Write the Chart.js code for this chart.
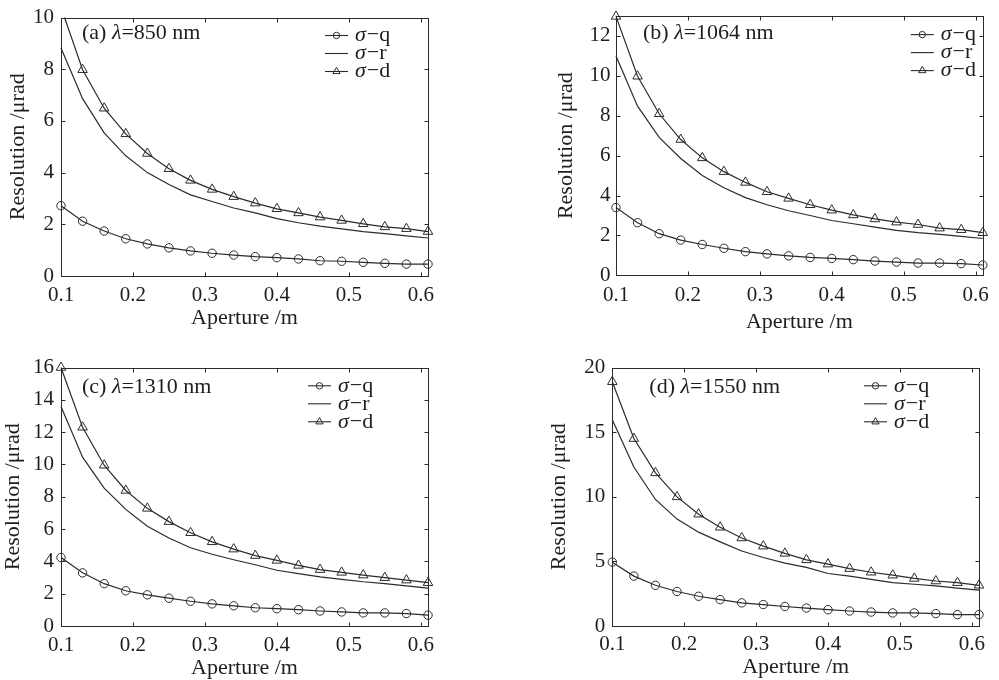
<!DOCTYPE html>
<html><head><meta charset="utf-8">
<script src="https://cdn.jsdelivr.net/npm/chart.js@4.4.1/dist/chart.umd.min.js"></script>
<style>
html,body{margin:0;padding:0;background:#fff;width:999px;height:680px;overflow:hidden;position:relative}
canvas{position:absolute;display:block}
</style></head><body>
<canvas id="ca" width="499" height="340" style="left:0;top:0"></canvas>
<canvas id="cb" width="499" height="340" style="left:500px;top:0"></canvas>
<canvas id="cc" width="499" height="340" style="left:0;top:350px"></canvas>
<canvas id="cd" width="499" height="340" style="left:500px;top:350px"></canvas>
<script>
// ---------- data ----------
const aperture = [0.10,0.13,0.16,0.19,0.22,0.25,0.28,0.31,0.34,0.37,0.40,0.43,0.46,0.49,0.52,0.55,0.58,0.61];
const xTickValues = [0.1,0.2,0.3,0.4,0.5,0.6];
const xTickLabels = ['0.1','0.2','0.3','0.4','0.5','0.6'];
const seriesNames = ['q','r','d'];

// (a) 850 nm
const sigmaQ_a = [2.72,2.12,1.74,1.44,1.24,1.09,0.97,0.88,0.81,0.75,0.71,0.66,0.59,0.57,0.53,0.49,0.46,0.46];
const sigmaR_a = [8.82,6.86,5.54,4.65,4.00,3.54,3.14,2.88,2.63,2.44,2.22,2.06,1.93,1.82,1.72,1.64,1.55,1.47];
const sigmaD_a = [10.4,7.98,6.49,5.50,4.74,4.15,3.70,3.35,3.07,2.82,2.60,2.44,2.28,2.15,2.02,1.90,1.83,1.72];
const yTicks_a = [0,2,4,6,8,10];
const yLabels_a = ['0','2','4','6','8','10'];
// (b) 1064 nm
const sigmaQ_b = [3.40,2.64,2.09,1.77,1.55,1.36,1.19,1.08,0.98,0.90,0.85,0.79,0.72,0.67,0.62,0.62,0.59,0.52];
const sigmaR_b = [11.0,8.48,6.92,5.86,5.01,4.39,3.90,3.54,3.24,3.00,2.75,2.59,2.42,2.26,2.14,2.06,1.96,1.85];
const sigmaD_b = [12.98,9.98,8.10,6.81,5.89,5.20,4.66,4.19,3.86,3.54,3.27,3.03,2.83,2.67,2.55,2.37,2.29,2.14];
const yTicks_b = [0,2,4,6,8,10,12];
const yLabels_b = ['0','2','4','6','8','10','12'];
// (c) 1310 nm
const sigmaQ_c = [4.24,3.29,2.62,2.18,1.93,1.72,1.53,1.37,1.25,1.13,1.07,1.01,0.93,0.87,0.81,0.81,0.77,0.67];
const sigmaR_c = [13.58,10.45,8.53,7.22,6.17,5.45,4.84,4.44,4.10,3.79,3.45,3.24,3.04,2.89,2.74,2.62,2.48,2.34];
const sigmaD_c = [16.0,12.3,9.95,8.39,7.28,6.46,5.77,5.21,4.76,4.36,4.06,3.75,3.49,3.32,3.15,2.99,2.84,2.68];
const yTicks_c = [0,2,4,6,8,10,12,14,16];
const yLabels_c = ['0','2','4','6','8','10','12','14','16'];
// (d) 1550 nm
const sigmaQ_d = [4.94,3.86,3.15,2.67,2.30,2.04,1.79,1.66,1.51,1.39,1.26,1.16,1.08,1.01,1.01,0.96,0.88,0.88];
const sigmaR_d = [15.96,12.3,9.79,8.27,7.26,6.51,5.80,5.30,4.87,4.54,4.06,3.86,3.61,3.35,3.23,3.10,2.93,2.77];
const sigmaD_d = [18.9,14.5,11.85,9.99,8.65,7.64,6.81,6.18,5.62,5.12,4.79,4.44,4.16,3.93,3.68,3.48,3.35,3.15];
const yTicks_d = [0,5,10,15,20];
const yLabels_d = ['0','5','10','15','20'];

const panelTags = ['(a)','(b)','(c)','(d)'];
const wavelengths = ['850','1064','1310','1550'];
const yMaxes = [10,13,16,20];

// ---------- style ----------
const FONT = '"Liberation Serif","Times New Roman",serif';
const INK = '#2b2b2b';
const TXT = '#1e1e1e';

const decor = {
  id:'decor',
  beforeDatasetsDraw(chart){
    const a = chart.chartArea, ctx = chart.ctx;
    const xs = chart.scales.x, ys = chart.scales.y;
    ctx.save();
    ctx.strokeStyle = INK; ctx.lineWidth = 1;
    const L = Math.round(a.left)+0.5, R = Math.round(a.right)+0.5, T = Math.round(a.top)+0.5, B = Math.round(a.bottom)+0.5;
    ctx.strokeRect(L, T, R-L, B-T);
    ctx.beginPath();
    xs.ticks.forEach(t=>{
      const px = Math.round(xs.getPixelForValue(t.value))+0.5;
      ctx.moveTo(px,B); ctx.lineTo(px,B-4);
      ctx.moveTo(px,T); ctx.lineTo(px,T+4);
    });
    ys.ticks.forEach(t=>{
      const py = Math.round(ys.getPixelForValue(t.value))+0.5;
      ctx.moveTo(L,py); ctx.lineTo(L+4,py);
      ctx.moveTo(R,py); ctx.lineTo(R-4,py);
    });
    ctx.stroke();
    ctx.restore();
  },
  afterDraw(chart){
    const o = chart.options.plugins.decor, a = chart.chartArea, ctx = chart.ctx;
    ctx.save();
    ctx.fillStyle = TXT;
    ctx.textBaseline = 'middle';
    // panel label
    let x = a.left + o.labelDx, y = a.top + o.labelDy;
    const parts = [[o.tag+' ', false],['λ', true],['='+o.wl+' nm', false]];
    parts.forEach(([s,it])=>{
      ctx.font = (it?'italic ':'') + '22px ' + FONT;
      ctx.fillText(s, x, y);
      x += ctx.measureText(s).width;
    });
    // legend
    const ds = chart.data.datasets;
    ds.forEach((d,i)=>{
      const lx = a.right + o.legDx, ly = a.top + o.legDy + i*o.legGap;
      ctx.strokeStyle = INK; ctx.lineWidth = 1.1;
      ctx.beginPath(); ctx.moveTo(lx, ly); ctx.lineTo(lx+23, ly); ctx.stroke();
      const cx = lx + 11.5;
      if (d.pointStyle === 'circle') {
        ctx.beginPath(); ctx.arc(cx, ly, 3.2, 0, Math.PI*2); ctx.lineWidth = 1; ctx.stroke();
      } else if (d.pointStyle === 'triangle') {
        const r = 4.2;
        ctx.beginPath();
        ctx.moveTo(cx, ly - r);
        ctx.lineTo(cx + r*0.866, ly + r*0.5);
        ctx.lineTo(cx - r*0.866, ly + r*0.5);
        ctx.closePath(); ctx.lineWidth = 1; ctx.stroke();
      }
      let tx = lx + 30;
      ctx.font = 'italic 22px ' + FONT;
      ctx.fillText('σ', tx, ly); tx += ctx.measureText('σ').width + 1;
      ctx.font = '22px ' + FONT;
      ctx.fillText('−' + seriesNames[i], tx, ly);
    });
    ctx.restore();
  }
};

function pts(arr){ return aperture.map((x,i)=>({x:x, y:arr[i]})); }

function makePanel(id, q, r, d, yTicks, yLabels, idx, g){
  new Chart(document.getElementById(id), {
    type:'line',
    data:{datasets:[
      {label:'σ−q', data:pts(q), borderColor:INK, borderWidth:1.2, pointStyle:'circle', pointRadius:4.2,
       pointBorderWidth:1, pointBorderColor:INK, pointBackgroundColor:'rgba(0,0,0,0)', tension:0, clip:g.clip},
      {label:'σ−r', data:pts(r), borderColor:INK, borderWidth:1.2, pointRadius:0, tension:0, clip:g.clip},
      {label:'σ−d', data:pts(d), borderColor:INK, borderWidth:1.2, pointStyle:'triangle', pointRadius:5.5,
       pointBorderWidth:1, pointBorderColor:INK, pointBackgroundColor:'rgba(0,0,0,0)', tension:0, clip:g.clip}
    ]},
    plugins:[decor],
    options:{
      responsive:false, animation:false, devicePixelRatio:1,
      layout:{padding:{left:0, top:g.padTop, right:g.padRight, bottom:0}},
      plugins:{legend:{display:false}, tooltip:{enabled:false},
        decor:{tag:panelTags[idx], wl:wavelengths[idx], labelDx:g.labelDx, labelDy:g.labelDy,
               legDx:g.legDx, legDy:g.legDy, legGap:18}},
      scales:{
        x:{type:'linear', min:0.1, max:0.61,
           grid:{display:false, drawTicks:false}, border:{display:false},
           afterFit:s=>{s.height = g.xAxisH;},
           afterBuildTicks:s=>{s.ticks = xTickValues.map(v=>({value:v}));},
           ticks:{padding:g.xTickPad, color:TXT, font:{family:FONT, size:21, lineHeight:1}, maxRotation:0, autoSkip:false,
                  callback:(v,i)=>xTickLabels[i]},
           title:{display:true, text:'Aperture /m', color:TXT, font:{family:FONT, size:22}, padding:{top:0, bottom:g.xTitlePad}}},
        y:{type:'linear', min:0, max:yMaxes[idx],
           grid:{display:false, drawTicks:false}, border:{display:false},
           afterFit:s=>{s.width = g.yAxisW;},
           afterBuildTicks:s=>{s.ticks = yTicks.map(v=>({value:v}));},
           ticks:{padding:g.yTickPad, color:TXT, font:{family:FONT, size:21, lineHeight:1}, autoSkip:false,
                  callback:(v,i)=>yLabels[i]},
           title:{display:true, text:'Resolution /μrad', color:TXT, font:{family:FONT, size:22}, padding:{top:g.yTitlePad, bottom:0}}}
      }
    }
  });
}

const clipTopOnly = {left:12, top:0, right:12, bottom:12};
makePanel('ca', sigmaQ_a, sigmaR_a, sigmaD_a, yTicks_a, yLabels_a, 0,
  {padTop:12, padRight:71, yAxisW:61, xAxisH:64, xTickPad:9, yTickPad:7, xTitlePad:8.8, yTitlePad:4.8,
   labelDx:21, labelDy:16, legDx:-103, legDy:18, clip:clipTopOnly});
makePanel('cb', sigmaQ_b, sigmaR_b, sigmaD_b, yTicks_b, yLabels_b, 1,
  {padTop:11.4, padRight:15, yAxisW:116, xAxisH:64.6, xTickPad:10, yTickPad:5.5, xTitlePad:5, yTitlePad:52.8,
   labelDx:27, labelDy:17, legDx:-72, legDy:18.6, clip:false});
makePanel('cc', sigmaQ_c, sigmaR_c, sigmaD_c, yTicks_c, yLabels_c, 2,
  {padTop:11.7, padRight:71, yAxisW:61, xAxisH:64, xTickPad:9, yTickPad:7, xTitlePad:8.8, yTitlePad:0,
   labelDx:21, labelDy:20, legDx:-120, legDy:18.3, clip:false});
makePanel('cd', sigmaQ_d, sigmaR_d, sigmaD_d, yTicks_d, yLabels_d, 3,
  {padTop:11.7, padRight:20, yAxisW:112.3, xAxisH:64, xTickPad:7.5, yTickPad:7, xTitlePad:10, yTitlePad:45.8,
   labelDx:37, labelDy:20, legDx:-115, legDy:18.3, clip:false});
</script>
</body></html>
